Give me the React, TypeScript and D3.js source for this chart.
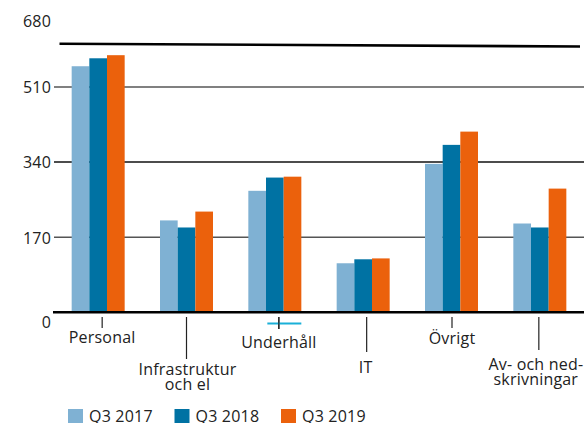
import React from 'react';
import { scaleBand, scaleLinear } from 'd3';

const categories = ['Personal', 'Infrastruktur\noch el', 'Underhåll', 'IT', 'Övrigt', 'Av- och ned-\nskrivningar'];
const seriesNames = ['Q3 2017', 'Q3 2018', 'Q3 2019'];
const q3_2017 = [557, 208, 275, 111, 336, 201];
const q3_2018 = [575, 192, 305, 120, 379, 192];
const q3_2019 = [582, 228, 307, 122, 409, 280];
const yTicks = [0, 170, 340, 510, 680];

const colors = ['#7fb1d3', '#0072a3', '#eb610c'];
// staggered category labels: tick offset, label offset, tick end, first baseline
const labelLayout = [
  { dx: 4, lx: 0, tickEnd: 328, base: 343 },
  { dx: 0, lx: 1, tickEnd: 359, base: 375 },
  { dx: 4, lx: 0, tickEnd: 329, base: 348 },
  { dx: 3.5, lx: -1, tickEnd: 352, base: 373 },
  { dx: 0.5, lx: 0, tickEnd: 328, base: 344 },
  { dx: -1, lx: -3, tickEnd: 350, base: 370 },
];
const gridStyle: Record<number, { stroke: string; w: number }> = {
  170: { stroke: '#555', w: 1.5 },
  340: { stroke: '#111', w: 1.5 },
  510: { stroke: '#808080', w: 2 },
};

export default function App() {
  const width = 584, height = 423;
  const font = '"Open Sans", Lato, sans-serif';
  const series = [q3_2017, q3_2018, q3_2019];

  const x = scaleBand<string>().domain(categories).range([54, 584]).paddingInner(0.4).paddingOuter(0.2);
  const xs = scaleBand<number>().domain([0, 1, 2]).range([0, x.bandwidth()]);
  const y = scaleLinear().domain([0, 680]).range([312.3, 11.9]);
  const txt = { fontSize: 16, fill: '#222', letterSpacing: 0.2 };

  return (
    <svg width={width} height={height} style={{ position: 'absolute', left: 0, top: 0, fontFamily: font }}>
      <rect width={width} height={height} fill="#fff" />
      {/* gridlines */}
      {yTicks.filter(t => gridStyle[t]).map(t => (
        <line key={t} x1={54} x2={584} y1={y(t)} y2={y(t)} stroke={gridStyle[t].stroke} strokeWidth={gridStyle[t].w} />
      ))}
      {/* top rule */}
      <line x1={59.5} x2={580} y1={y(680) + 31.8} y2={y(680) + 34.6} stroke="#000" strokeWidth={2.6} />
      {/* y labels */}
      {yTicks.map(t => (
        <text key={t} x={51} y={y(t) + (t === 0 ? 16 : t === 680 ? 15 : 6.3)} textAnchor="end" {...txt}>{t}</text>
      ))}
      {/* bars */}
      {series.map((vals, si) => (
        <g key={si}>
          {vals.map((v, ci) => (
            <rect key={ci} x={(x(categories[ci]) ?? 0) + (xs(si) ?? 0)} y={y(v)} width={xs.bandwidth()} height={y(0) - y(v)} fill={colors[si]} />
          ))}
        </g>
      ))}
      {/* baseline */}
      <line x1={53} x2={584} y1={y(0)} y2={y(0)} stroke="#000" strokeWidth={2.6} />
      {/* category ticks + labels */}
      {categories.map((c, i) => {
        const lay = labelLayout[i];
        const cx = (x(c) ?? 0) + x.bandwidth() / 2 + lay.dx;
        const lines = c.split('\n');
        return (
          <g key={c}>
            <line x1={cx} x2={cx} y1={317} y2={lay.tickEnd} stroke="#222" strokeWidth={1.2} />
            {c === 'Underhåll' && <line x1={cx - 11.5} x2={cx + 22.5} y1={323.5} y2={323.5} stroke="#1ab0d8" strokeWidth={1.8} />}
            {c === 'Underhåll' && <line x1={cx} x2={cx} y1={317} y2={329} stroke="#222" strokeWidth={1.2} />}
            {lines.map((l, li) => (
              <text key={li} x={cx + lay.lx} y={lay.base + li * 15} textAnchor="middle" {...txt}>{l}</text>
            ))}
          </g>
        );
      })}
      {/* legend */}
      {seriesNames.map((s, i) => (
        <g key={s} transform={`translate(${68 + i * 106.5},409)`}>
          <rect width={15} height={14} fill={colors[i]} />
          <text x={21} y={12.5} {...txt}>{s}</text>
        </g>
      ))}
    </svg>
  );
}
